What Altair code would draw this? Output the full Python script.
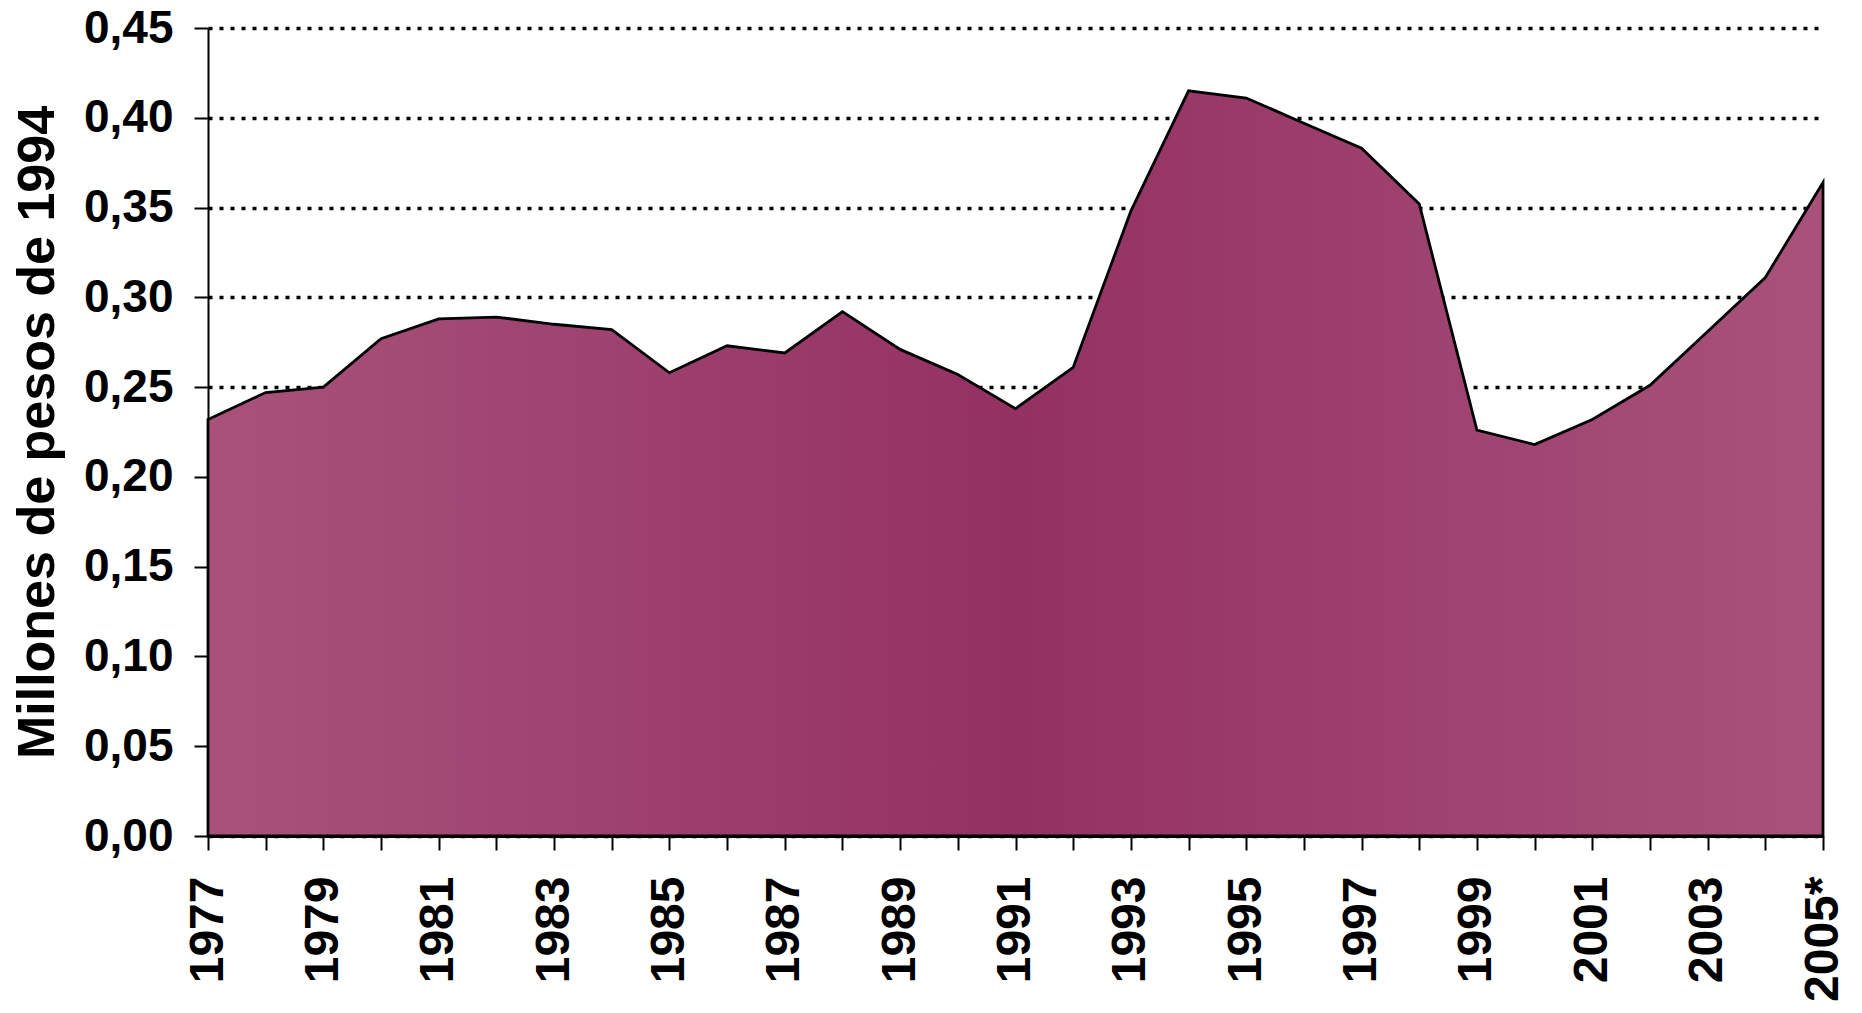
import altair as alt
import pandas as pd

years = list(range(1977, 2006))
values = [0.232, 0.247, 0.250, 0.277, 0.288, 0.289, 0.285, 0.282, 0.258, 0.273,
          0.269, 0.292, 0.271, 0.257, 0.238, 0.261, 0.348, 0.415, 0.411, 0.397,
          0.383, 0.352, 0.226, 0.218, 0.232, 0.251, 0.281, 0.311, 0.364]
y_ticks = [0.00, 0.05, 0.10, 0.15, 0.20, 0.25, 0.30, 0.35, 0.40, 0.45]
last_label = "2005*"

df = pd.DataFrame({"year": years, "value": values})

fill = alt.Gradient(
    gradient="linear",
    stops=[
        alt.GradientStop(color="#A8527B", offset=0),
        alt.GradientStop(color="#943163", offset=0.5),
        alt.GradientStop(color="#A8527B", offset=1),
    ],
    x1=0, x2=1, y1=0, y2=0,
)

chart = alt.Chart(df).mark_area(
    color=fill, stroke="black", strokeWidth=2.8, strokeJoin="miter"
).encode(
    x=alt.X(
        "year:Q",
        scale=alt.Scale(domain=[1977, 2005], nice=False, zero=False),
        axis=alt.Axis(
            values=years,
            labelExpr=f"datum.value % 2 == 1 ? (datum.value == 2005 ? '{last_label}' : format(datum.value, 'd')) : ''",
            labelAngle=-90,
            labelAlign="right",
            labelBaseline="middle",
            labelFont="Liberation Sans",
            labelFontWeight="bold",
            labelFontSize=48,
            labelColor="black",
            labelPadding=26,
            labelOverlap=False,
            labelBound=False,
            tickSize=14,
            tickWidth=2,
            tickColor="black",
            domainColor="black",
            domainWidth=3,
            grid=False,
            title=None,
        ),
    ),
    y=alt.Y(
        "value:Q",
        scale=alt.Scale(domain=[0, 0.45], nice=False),
        axis=alt.Axis(
            values=y_ticks,
            labelExpr="replace(format(datum.value, '.2f'), '.', ',')",
            labelFont="Liberation Sans",
            labelFontWeight="bold",
            labelFontSize=46,
            labelColor="black",
            labelPadding=21,
            tickSize=14,
            tickWidth=2,
            tickColor="black",
            domainColor="black",
            domainWidth=2,
            grid=True,
            gridColor="black",
            gridDash=[4, 7],
            gridWidth=3.5,
            title="Millones de pesos de 1994",
            titleFont="Liberation Sans",
            titleFontWeight="bold",
            titleFontSize=52,
            titleColor="black",
            titleX=-155,
            titleBaseline="alphabetic",
        ),
    ),
).properties(
    width=1615,
    height=808,
    autosize=alt.AutoSizeParams(type="none"),
    padding={"left": 200, "top": 20, "right": 30, "bottom": 170},
).configure_view(stroke=None)

chart.save("out.html", embed_options={"renderer": "svg", "actions": False})
